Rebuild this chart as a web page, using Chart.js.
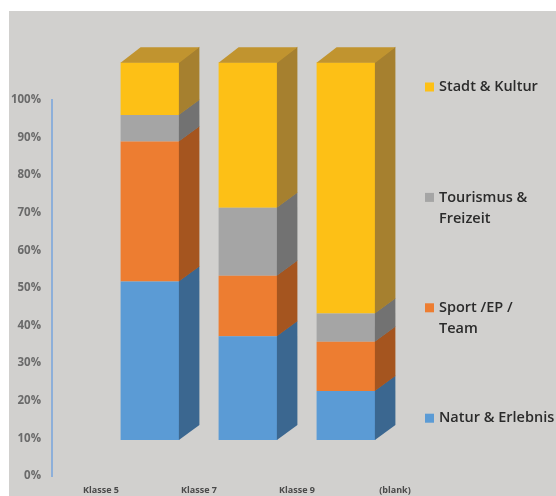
<!DOCTYPE html>
<html>
<head>
<meta charset="utf-8">
<style>
html,body{margin:0;padding:0;background:#fff;}
#wrap{width:556px;height:496px;position:relative;}
</style>
<script src="https://cdn.jsdelivr.net/npm/chart.js@4.4.0/dist/chart.umd.min.js"></script>
</head>
<body>
<div id="wrap"><canvas id="c" width="556" height="496"></canvas></div>
<script>
// ---- data ----
const categories = ['Klasse 5', 'Klasse 7', 'Klasse 9', '(blank)'];
const naturErlebnis = [42, 27.5, 13, 0];
const sportEpTeam = [37, 16, 13, 0];
const tourismusFreizeit = [7, 18, 7.5, 0];
const stadtKultur = [14, 38.5, 66.5, 0];
const yTickValues = [0, 10, 20, 30, 40, 50, 60, 70, 80, 90, 100];
const seriesNames = ['Natur & Erlebnis', 'Sport /EP / Team', 'Tourismus & Freizeit', 'Stadt & Kultur'];
const legendLines = [['Natur & Erlebnis'], ['Sport /EP /', 'Team'], ['Tourismus &', 'Freizeit'], ['Stadt & Kultur']];

// bars sit on the category boundary (3D depth shift), on a hidden linear index scale
const toPoints = vals => vals.map((v, i) => ({ x: i + 1, y: v }));

const background = {
  id: 'background',
  beforeDraw(chart) {
    const ctx = chart.ctx;
    ctx.save();
    ctx.fillStyle = '#ffffff';
    ctx.fillRect(0, 0, chart.width, chart.height);
    ctx.fillStyle = '#d1d0ce';
    ctx.fillRect(9, 11, chart.width - 9, chart.height - 11);
    ctx.restore();
  }
};

const threeD = {
  id: 'threeD',
  afterDatasetsDraw(chart) {
    const ctx = chart.ctx;
    const dx = 20, dy = -15;
    const dsets = chart.data.datasets;
    ctx.save();
    dsets.forEach((ds, di) => {
      const meta = chart.getDatasetMeta(di);
      meta.data.forEach((bar, i) => {
        const p = bar.getProps(['x', 'y', 'base', 'width'], true);
        const top = Math.min(p.y, p.base), bottom = Math.max(p.y, p.base);
        if (bottom - top < 0.5) return;
        const l = p.x - p.width / 2, r = p.x + p.width / 2;
        ctx.fillStyle = ds.sideColor;
        ctx.beginPath();
        ctx.moveTo(r - 0.5, bottom);
        ctx.lineTo(r + dx, bottom + dy);
        ctx.lineTo(r + dx, top + dy - 0.5);
        ctx.lineTo(r - 0.5, top - 0.5);
        ctx.closePath();
        ctx.fill();
        let isTop = true;
        for (let k = di + 1; k < dsets.length; k++) {
          if (dsets[k].data[i].y > 0) isTop = false;
        }
        if (isTop) {
          ctx.fillStyle = ds.topColor;
          ctx.beginPath();
          ctx.moveTo(l, top + 0.5);
          ctx.lineTo(l + dx, top + dy);
          ctx.lineTo(r + dx, top + dy);
          ctx.lineTo(r, top + 0.5);
          ctx.closePath();
          ctx.fill();
        }
      });
    });
    ctx.restore();
  }
};

const sideLegend = {
  id: 'sideLegend',
  afterDraw(chart) {
    const ctx = chart.ctx;
    const dsets = chart.data.datasets;
    const x0 = 425, yTop = 87, step = 110.4, lineH = 21;
    ctx.save();
    ctx.font = '600 14.5px "Open Sans"';
    ctx.textBaseline = 'middle';
    ctx.textAlign = 'left';
    for (let k = dsets.length - 1, row = 0; k >= 0; k--, row++) {
      const y = yTop + row * step;
      ctx.fillStyle = dsets[k].backgroundColor;
      ctx.fillRect(x0, y - 4.5, 9, 9);
      ctx.fillStyle = '#2b2b2b';
      legendLines[k].forEach((t, li) => ctx.fillText(t, x0 + 14, y + li * lineH));
    }
    ctx.restore();
  }
};

const front = ['#5b9bd5', '#ed7d31', '#a5a5a5', '#fdc016'];
const side = ['#3b6790', '#a5551f', '#727272', '#a6802f'];
const topc = ['#4a7fb0', '#c0642a', '#8a8a8a', '#c1942f'];
const seriesValues = [naturErlebnis, sportEpTeam, tourismusFreizeit, stadtKultur];

new Chart(document.getElementById('c'), {
  type: 'bar',
  data: {
    labels: categories,
    datasets: seriesValues.map((vals, k) => ({
      label: seriesNames[k],
      data: toPoints(vals),
      backgroundColor: front[k],
      sideColor: side[k],
      topColor: topc[k],
      borderWidth: 0,
      xAxisID: 'xb',
      yAxisID: 'yb',
      clip: false,
      categoryPercentage: 1,
      barPercentage: 0.6
    }))
  },
  options: {
    responsive: false,
    animation: false,
    devicePixelRatio: 1,
    layout: { padding: { left: 0, right: 112, top: 100, bottom: 0 } },
    plugins: { legend: { display: false }, tooltip: { enabled: false } },
    scales: {
      x: {
        type: 'category',
        labels: categories,
        offset: true,
        grid: { display: false, drawTicks: false },
        border: { display: false },
        ticks: { padding: 9, color: '#4a4a4a', font: { family: 'Open Sans', size: 9, weight: 'bold' }, maxRotation: 0 },
        afterFit(s) { s.height = 20; }
      },
      xb: {
        type: 'linear',
        display: false,
        offset: false,
        min: 0,
        max: categories.length,
        ticks: { stepSize: 1 },
        stacked: true
      },
      y: {
        type: 'linear',
        position: 'left',
        min: yTickValues[0],
        max: yTickValues[yTickValues.length - 1],
        afterBuildTicks(s) { s.ticks = yTickValues.map(v => ({ value: v })); },
        grid: { display: false, drawTicks: false },
        border: { display: true, color: '#8dafd9', width: 2 },
        ticks: {
          padding: 11,
          color: '#6a6a6a',
          font: { family: 'Open Sans', size: 11.5, weight: 'bold' },
          callback: v => v + '%'
        },
        afterFit(s) { s.width = 52; }
      },
      yb: {
        type: 'linear',
        display: false,
        stacked: true,
        min: -9.5,
        max: 90
      }
    }
  },
  plugins: [background, threeD, sideLegend]
});
</script>
</body>
</html>
